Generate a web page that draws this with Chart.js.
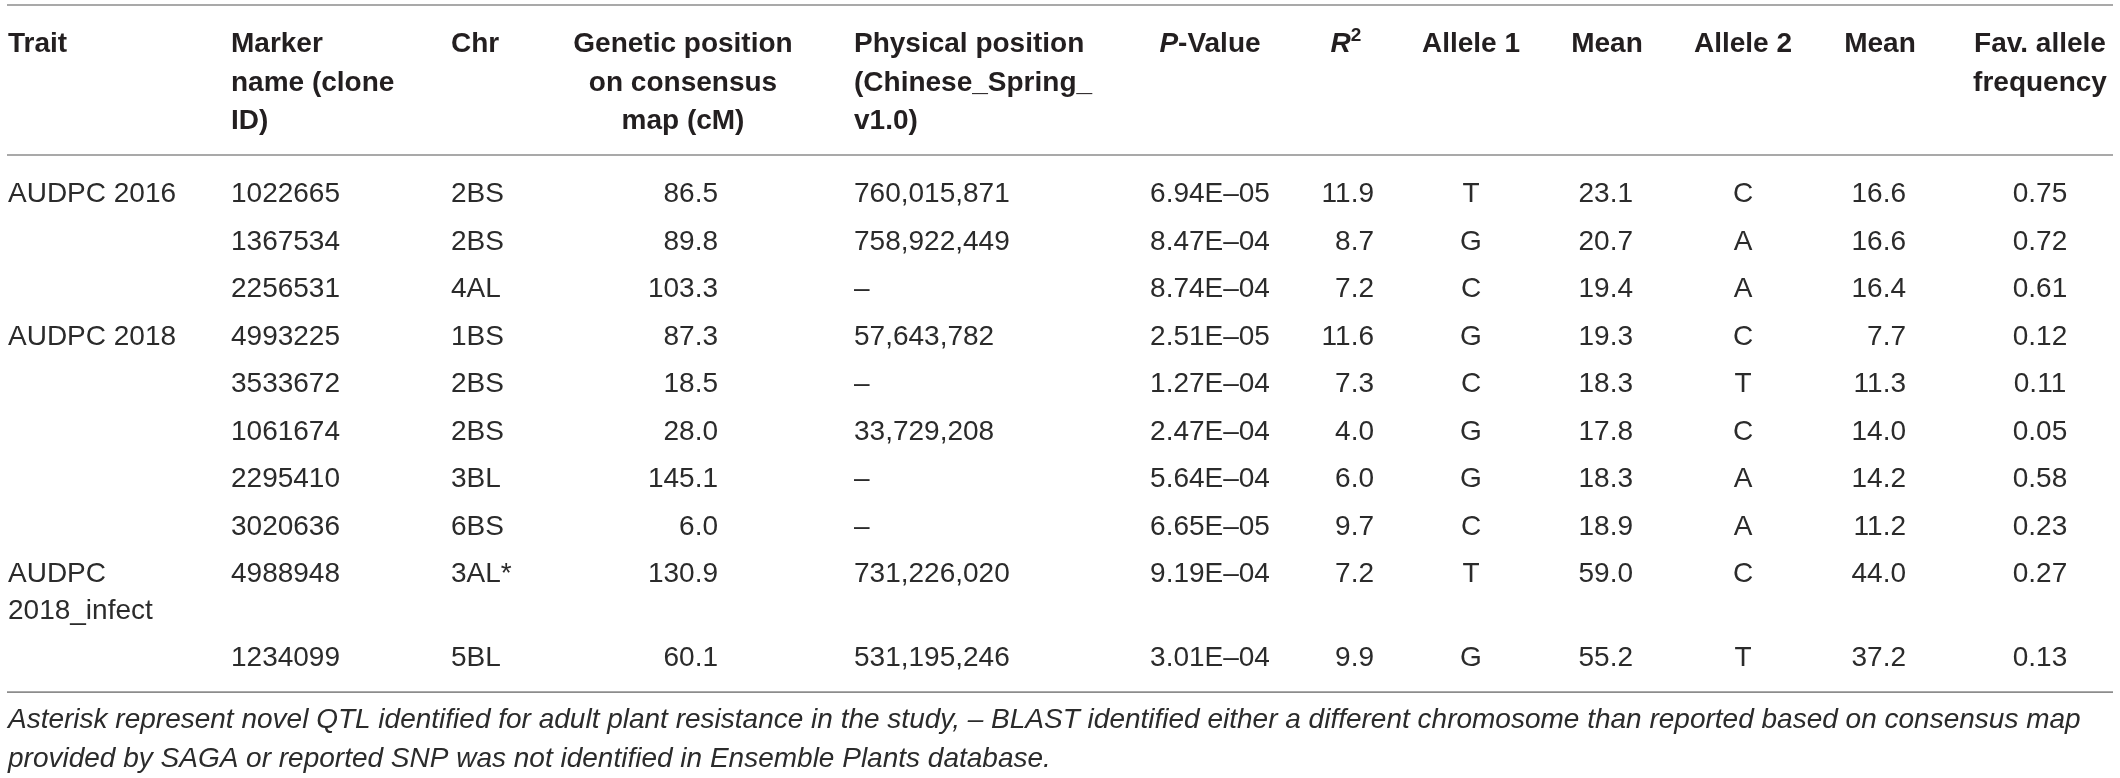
<!DOCTYPE html>
<html><head><meta charset="utf-8">
<script src="https://cdn.jsdelivr.net/npm/chart.js@4/dist/chart.umd.min.js"></script>
<style>html,body{margin:0;padding:0;background:#fff;overflow:hidden}canvas{display:block}</style>
</head><body>
<canvas id="c" width="2120" height="778"></canvas>
<script>
// ---------- data ----------
const traits      = ["AUDPC 2016","","","AUDPC 2018","","","","","AUDPC\n2018_infect",""];
const markers     = ["1022665","1367534","2256531","4993225","3533672","1061674","2295410","3020636","4988948","1234099"];
const chromosomes = ["2BS","2BS","4AL","1BS","2BS","2BS","3BL","6BS","3AL*","5BL"];
const geneticPos  = [86.5,89.8,103.3,87.3,18.5,28.0,145.1,6.0,130.9,60.1];
const physicalPos = [760015871,758922449,null,57643782,null,33729208,null,null,731226020,531195246];
const pValues     = [6.94e-5,8.47e-4,8.74e-4,2.51e-5,1.27e-4,2.47e-4,5.64e-4,6.65e-5,9.19e-4,3.01e-4];
const rSquared    = [11.9,8.7,7.2,11.6,7.3,4.0,6.0,9.7,7.2,9.9];
const allele1     = ["T","G","C","G","C","G","G","C","T","G"];
const mean1       = [23.1,20.7,19.4,19.3,18.3,17.8,18.3,18.9,59.0,55.2];
const allele2     = ["C","A","A","C","T","C","A","A","C","T"];
const mean2       = [16.6,16.6,16.4,7.7,11.3,14.0,14.2,11.2,44.0,37.2];
const favFreq     = [0.75,0.72,0.61,0.12,0.11,0.05,0.58,0.23,0.27,0.13];

const headerLabels = [
  ["Trait"],
  ["Marker","name (clone","ID)"],
  ["Chr"],
  ["Genetic position","on consensus","map (cM)"],
  ["Physical position","(Chinese_Spring_","v1.0)"],
  ["*P*-Value"],
  ["*R*^2"],
  ["Allele 1"],
  ["Mean"],
  ["Allele 2"],
  ["Mean"],
  ["Fav. allele","frequency"]
];
const footnoteLines = [
  "Asterisk represent novel QTL identified for adult plant resistance in the study, \u2013 BLAST identified either a different chromosome than reported based on consensus map",
  "provided by SAGA or reported SNP was not identified in Ensemble Plants database."
];

// ---------- formatting ----------
const f1 = v => v.toFixed(1);
const f2 = v => v.toFixed(2);
const fPhys = v => v == null ? "\u2013" : String(v).replace(/\B(?=(\d{3})+(?!\d))/g, ",");
const fP = v => { const [m, e] = v.toExponential(2).split("e"); const n = parseInt(e, 10);
  return m + "E" + (n < 0 ? "\u2013" : "+") + String(Math.abs(n)).padStart(2, "0"); };

const columns = [
  traits, markers, chromosomes, geneticPos.map(f1), physicalPos.map(fPhys), pValues.map(fP),
  rSquared.map(f1), allele1, mean1.map(f1), allele2, mean2.map(f1), favFreq.map(f2)
];

// ---------- layout (x in px units of a 0..2120 linear scale, y in row units) ----------
const W = 2120, H = 778;
const cellAnchor  = [8, 231, 451, 718, 854, 1210, 1374, 1471, 1633, 1743, 1906, 2040];
const cellAlign   = ["left","left","left","right","left","center","right","center","right","center","right","center"];
const headAnchor  = [8, 231, 451, 683, 854, 1210, 1346, 1471, 1607, 1743, 1880, 2040];
const headAlign   = ["left","left","left","center","left","center","center","center","center","center","center","center"];
const rowPx = 47.5, firstRowPx = 202;
const wrapGap = 0.77;                       // second text line inside a cell
const yMin = -firstRowPx / rowPx, yMax = (H - firstRowPx) / rowPx;
const headFirst = (52 - firstRowPx) / rowPx, headGap = 38.5 / rowPx;
const ruleTop = (5 - firstRowPx) / rowPx, ruleHead = (155 - firstRowPx) / rowPx;
const ruleFrom = 7, ruleTo = 2113;

const rowPos = []; { let acc = 0; traits.forEach(t => { rowPos.push(acc); acc += 1 + (t.split("\n").length - 1) * wrapGap; }); }
const ruleBottom = rowPos[rowPos.length - 1] + 26 / rowPx;
const footFirst = ruleBottom + 36 / rowPx, footGap = 39 / rowPx;

const FONT = "'Liberation Sans', Arial, Helvetica, sans-serif";
const BODY = "28px " + FONT, BOLD = "bold 28px " + FONT;

function segments(str) {
  // *x* = italic, ^x = superscript
  const segs = []; let re = /\*([^*]+)\*|\^(\S+)|([^*^]+)/g, m;
  while ((m = re.exec(str))) {
    if (m[1]) segs.push({ t: m[1], it: true });
    else if (m[2]) segs.push({ t: m[2], sup: true });
    else segs.push({ t: m[3] });
  }
  return segs;
}
function drawRich(ctx, str, x, y, align, bold) {
  const segs = segments(str);
  const fontFor = s => (s.it ? "italic " : "") + (bold ? "bold " : "") + (s.sup ? "19px " : "28px ") + FONT;
  let total = 0;
  segs.forEach(s => { ctx.font = fontFor(s); s.w = ctx.measureText(s.t).width; total += s.w; });
  let cx = align === "left" ? x : align === "right" ? x - total : x - total / 2;
  ctx.textAlign = "left";
  segs.forEach(s => { ctx.font = fontFor(s); ctx.fillText(s.t, cx, s.sup ? y - 11 : y); cx += s.w; });
}

const tablePlugin = {
  id: "table",
  afterDatasetsDraw(chart) {
    const { ctx } = chart, xs = chart.scales.x, ys = chart.scales.y;
    ctx.save();
    ctx.textBaseline = "alphabetic";
    // rules
    ctx.strokeStyle = "#8c8c8c"; ctx.lineWidth = 1.6;
    [ruleTop, ruleHead, ruleBottom].forEach(r => {
      const py = ys.getPixelForValue(r);
      ctx.beginPath(); ctx.moveTo(xs.getPixelForValue(ruleFrom), py); ctx.lineTo(xs.getPixelForValue(ruleTo), py); ctx.stroke();
    });
    // header
    ctx.fillStyle = "#231f20";
    headerLabels.forEach((lines, c) => {
      lines.forEach((ln, k) => drawRich(ctx, ln, xs.getPixelForValue(headAnchor[c]), ys.getPixelForValue(headFirst + k * headGap), headAlign[c], true));
    });
    // cells, positioned by the dataset elements
    ctx.fillStyle = "#2b2b2b"; ctx.font = BODY;
    chart.data.datasets.forEach((ds, di) => {
      const meta = chart.getDatasetMeta(di);
      ctx.textAlign = ds.align;
      meta.data.forEach((el, i) => {
        const gapPx = ys.getPixelForValue(ds.data[i].y + wrapGap) - el.y;
        ds.texts[i].split("\n").forEach((ln, k) => { if (ln) ctx.fillText(ln, el.x, el.y + k * gapPx); });
      });
    });
    // footnote
    ctx.font = "italic 28px " + FONT; ctx.textAlign = "left"; ctx.fillStyle = "#2b2b2b";
    footnoteLines.forEach((ln, k) => ctx.fillText(ln, xs.getPixelForValue(8), ys.getPixelForValue(footFirst + k * footGap)));
    ctx.restore();
  }
};

new Chart(document.getElementById("c"), {
  type: "scatter",
  data: {
    datasets: columns.map((col, c) => ({
      label: headerLabels[c].join(" "),
      texts: col,
      align: cellAlign[c],
      data: col.map((_, i) => ({ x: cellAnchor[c], y: rowPos[i] })),
      pointRadius: 0, pointHoverRadius: 0
    }))
  },
  options: {
    responsive: false, animation: false, devicePixelRatio: 1,
    layout: { padding: 0 },
    events: [],
    plugins: { legend: { display: false }, tooltip: { enabled: false } },
    scales: {
      x: { type: "linear", min: 0, max: W, display: false },
      y: { type: "linear", min: yMin, max: yMax, reverse: true, display: false }
    }
  },
  plugins: [tablePlugin]
});
</script>
</body></html>
